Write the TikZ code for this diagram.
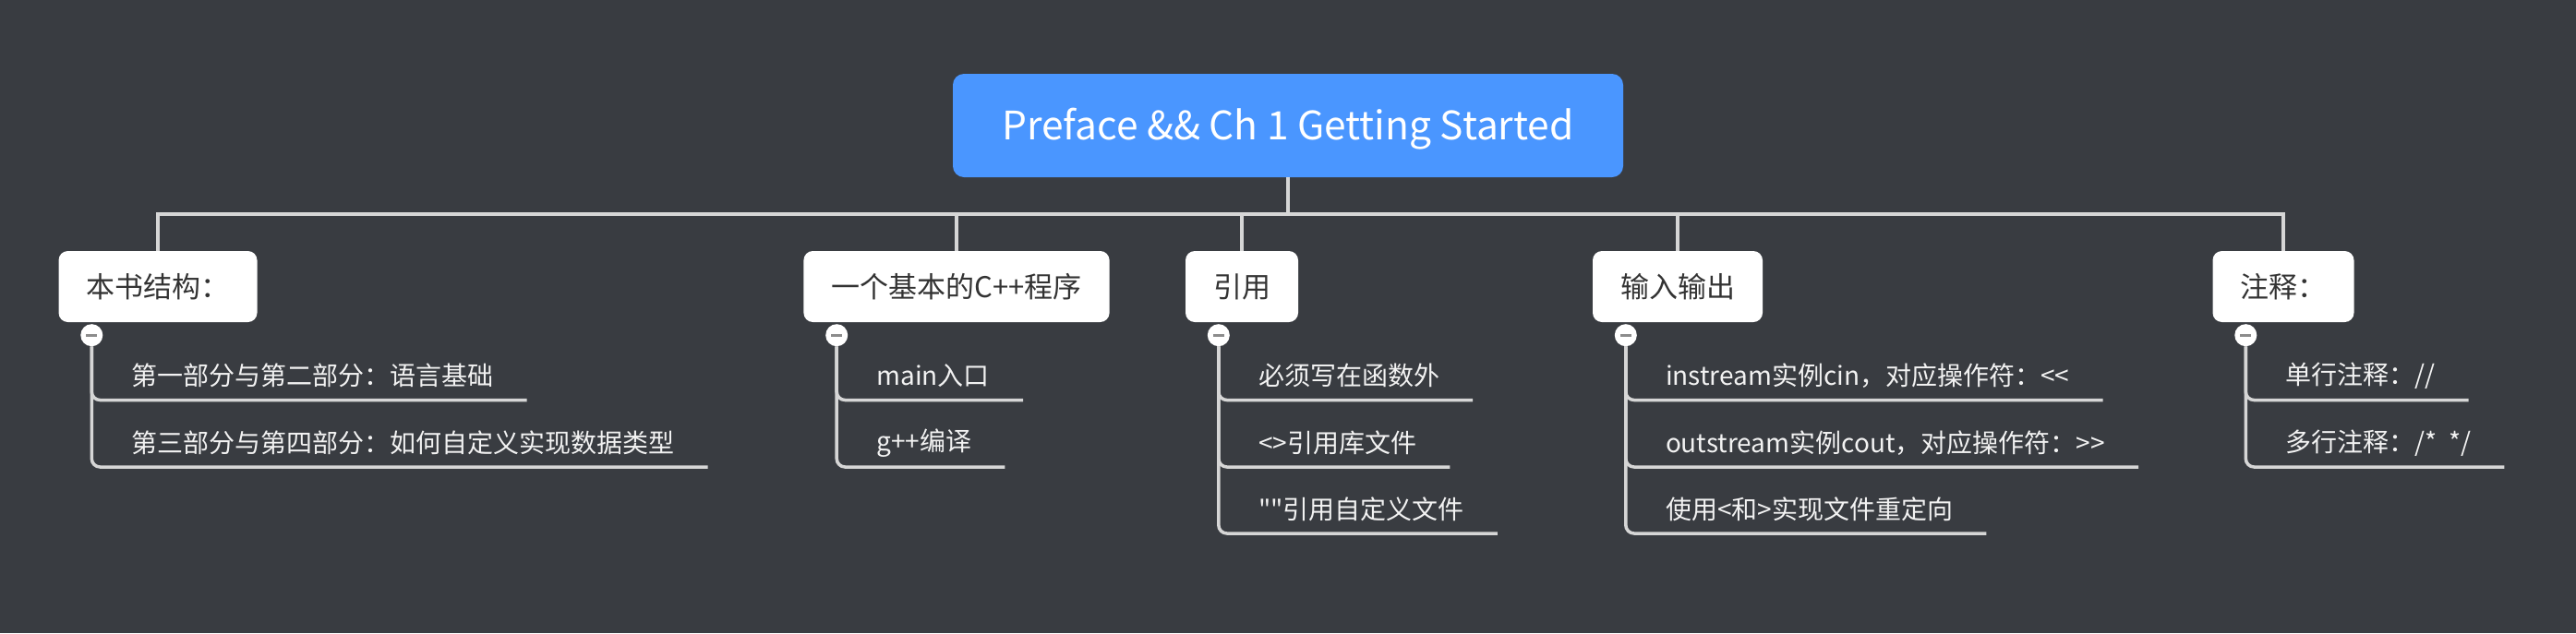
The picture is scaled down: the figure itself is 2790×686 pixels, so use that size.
\documentclass[tikz,border=0pt]{standalone}
\usepackage{fontspec}
\setmainfont{Noto Sans CJK SC}
\newfontfamily\rawfont{Noto Sans CJK SC}
\usetikzlibrary{positioning,calc}
\definecolor{bg}{HTML}{393C41}
\definecolor{rootblue}{HTML}{4A96FF}
\definecolor{linegrey}{HTML}{D6D6D6}
\definecolor{topictext}{HTML}{333333}
\definecolor{subtext}{HTML}{F2F2F2}
\definecolor{minusgrey}{HTML}{8C8C8C}
\begin{document}
\begin{tikzpicture}[
        x=1pt, y=-1pt,
        root/.style={fill=rootblue, rounded corners=12pt, text=white, inner sep=0pt, minimum width=726pt, minimum height=112pt, text height=39pt, text depth=8pt, font=\fontsize{42.5}{50}\selectfont},
        topic/.style={fill=white, rounded corners=10pt, text=topictext, inner xsep=30pt, inner ysep=0pt, minimum height=77pt, font=\fontsize{31}{36}\selectfont},
        tog/.style={circle, fill=white, inner sep=0pt, minimum size=24pt, path picture={\draw[minusgrey, line width=3pt] ([xshift=-6pt]path picture bounding box.center) -- ([xshift=6pt]path picture bounding box.center);}},
        sub/.style={anchor=south west, text=subtext, inner xsep=36pt, inner ysep=0pt, minimum height=52pt, font=\fontsize{28}{32}\selectfont},
        link/.style={draw=linegrey, line width=3.5pt},
        leaf/.style={link, rounded corners=9pt},
    ]
    \fill[bg] (0,0) rectangle (2790,686);

    \node[root] (root) at (1395,136) {Preface \&\& Ch 1 Getting Started};

    \node[topic] (t1) at (171,310.5) {本书结构：};
    \node[topic] (t2) at (1036,310.5) {一个基本的C++程序};
    \node[topic] (t3) at (1345,310.5) {引用};
    \node[topic] (t4) at (1817,310.5) {输入输出};
    \node[topic] (t5) at (2473,310.5) {注释：};

    \node[tog] (t1tog) at ([xshift=36pt,yshift=-14pt]t1.south west) {};
    \node[tog] (t2tog) at ([xshift=36pt,yshift=-14pt]t2.south west) {};
    \node[tog] (t3tog) at ([xshift=36pt,yshift=-14pt]t3.south west) {};
    \node[tog] (t4tog) at ([xshift=36pt,yshift=-14pt]t4.south west) {};
    \node[tog] (t5tog) at ([xshift=36pt,yshift=-14pt]t5.south west) {};

    % leaves
    \node[sub] (c11) at ($(t1tog |- 0,433.5)+(7,0)$) {第一部分与第二部分：语言基础};
    \node[sub] (c12) at ($(t1tog |- 0,506)+(7,0)$) {第三部分与第四部分：如何自定义实现数据类型};
    \node[sub] (c21) at ($(t2tog |- 0,433.5)+(7,0)$) {main入口};
    \node[sub] (c22) at ($(t2tog |- 0,506)+(7,0)$) {g++编译};
    \node[sub] (c31) at ($(t3tog |- 0,433.5)+(7,0)$) {必须写在函数外};
    \node[sub] (c32) at ($(t3tog |- 0,506)+(7,0)$) {<>引用库文件};
    \node[sub] (c33) at ($(t3tog |- 0,578)+(7,0)$) {{\rawfont ""}引用自定义文件};
    \node[sub] (c41) at ($(t4tog |- 0,433.5)+(7,0)$) {instream实例cin，对应操作符：<{}<};
    \node[sub] (c42) at ($(t4tog |- 0,506)+(7,0)$) {outstream实例cout，对应操作符：>{}>};
    \node[sub] (c43) at ($(t4tog |- 0,578)+(7,0)$) {使用<和>实现文件重定向};
    \node[sub] (c51) at ($(t5tog |- 0,433.5)+(7,0)$) {单行注释：//};
    \node[sub] (c52) at ($(t5tog |- 0,506)+(7,0)$) {多行注释：/*\ \ */};

    \coordinate (bus) at (0,232);
    \draw[link] (root.south) -- (root.south |- bus);
    \draw[link] (t1.north) -- (t1.north |- bus) -- (t5.north |- bus) -- (t5.north);
    \draw[link] (t2.north) -- (t2.north |- bus);
    \draw[link] (t3.north) -- (t3.north |- bus);
    \draw[link] (t4.north) -- (t4.north |- bus);

    \draw[leaf] (t1tog.south) |- (c11.south east);
    \draw[leaf] (t1tog.south) |- (c12.south east);
    \draw[leaf] (t2tog.south) |- (c21.south east);
    \draw[leaf] (t2tog.south) |- (c22.south east);
    \draw[leaf] (t3tog.south) |- (c31.south east);
    \draw[leaf] (t3tog.south) |- (c32.south east);
    \draw[leaf] (t3tog.south) |- (c33.south east);
    \draw[leaf] (t4tog.south) |- (c41.south east);
    \draw[leaf] (t4tog.south) |- (c42.south east);
    \draw[leaf] (t4tog.south) |- (c43.south east);
    \draw[leaf] (t5tog.south) |- (c51.south east);
    \draw[leaf] (t5tog.south) |- (c52.south east);
\end{tikzpicture}
\end{document}
